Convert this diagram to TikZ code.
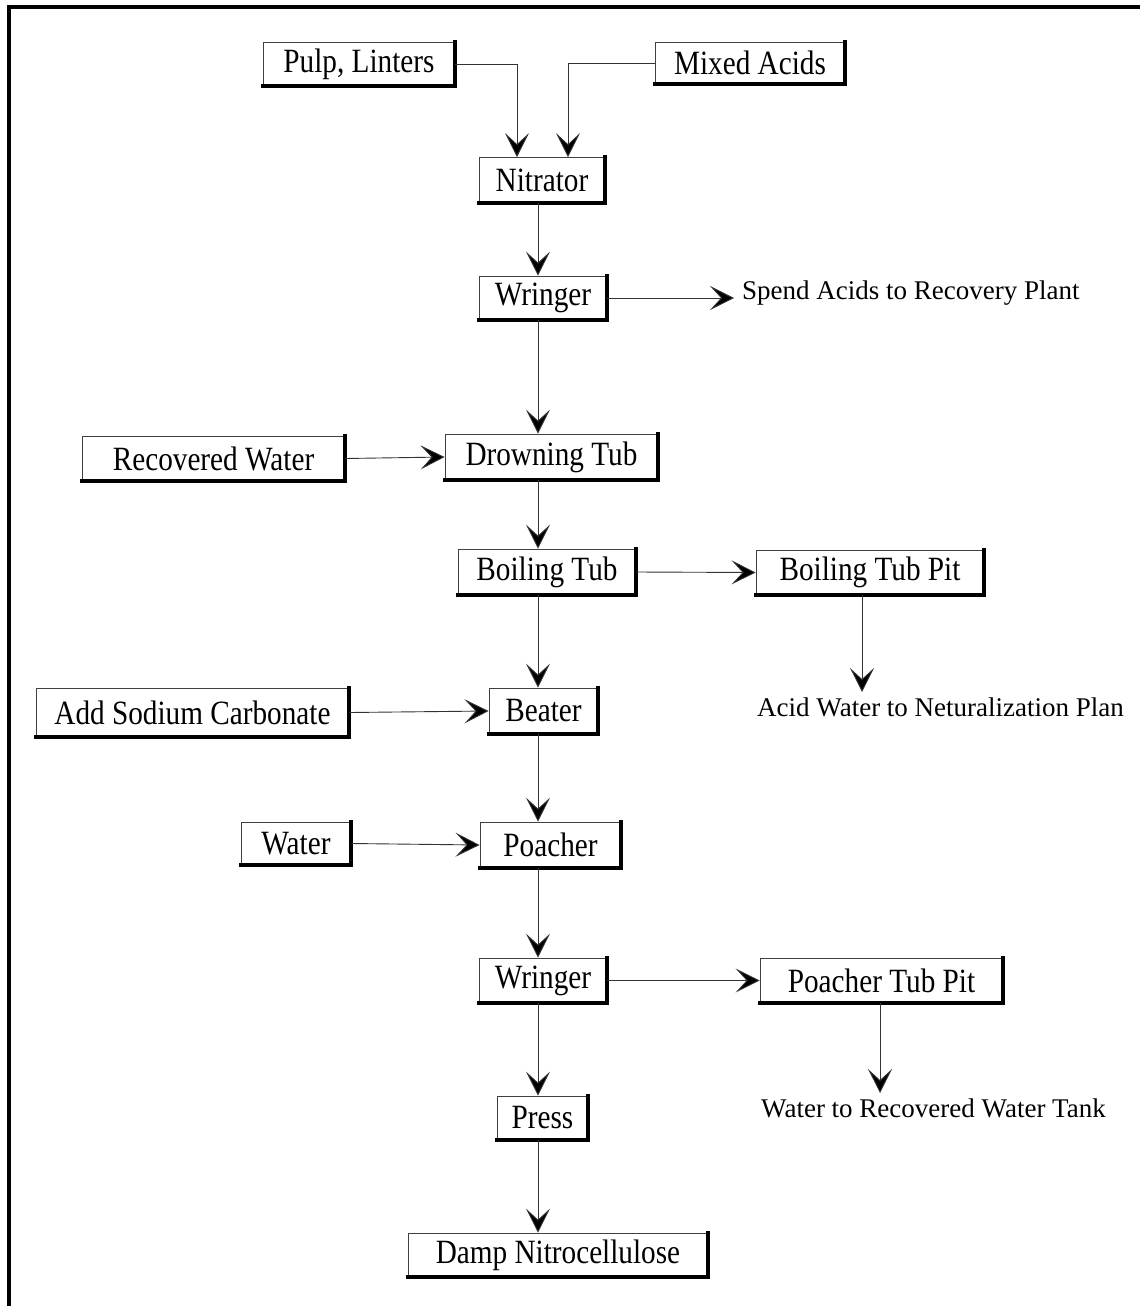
\documentclass[tikz,border=0pt]{standalone}
\usepackage{fontspec}
\setmainfont{Liberation Serif}
\newfontfamily\boxfont[FakeStretch=0.86]{Liberation Serif}
\usetikzlibrary{arrows.meta}
\tikzset{
 pbox/.style={draw=black!75, line width=0.8pt, inner sep=0pt, fill=white,
   font=\boxfont\fontsize{34}{36}\selectfont},
 lbl/.style={font=\fontsize{27}{30}\selectfont, inner sep=0pt, anchor=west},
 flow/.style={line width=0.9pt, draw=black!80,
   -{Stealth[length=24pt,width=24pt,inset=11pt,fill=black]}},
 shadowline/.style={line width=4pt, line cap=rect}
}
\begin{document}
\begin{tikzpicture}[x=1pt,y=-1pt]
\useasboundingbox (0,0) rectangle (1140,1306);
\draw[line width=4pt] (9,1306) -- (9,7) -- (1140,7);
\coordinate (axis) at (538,0);

\node[pbox, minimum width=192pt, minimum height=44pt] (pulp)  at (359,64)    {Pulp, Linters};
\node[pbox, minimum width=190pt, minimum height=42pt] (mixed) at (750,63)    {Mixed Acids};
\node[pbox, minimum width=126pt, minimum height=45pt] (nitr)  at (542,180)   {Nitrator};
\node[pbox, minimum width=128pt, minimum height=44pt] (wr1)   at (543,298)   {Wringer};
\node[pbox, minimum width=213pt, minimum height=46pt] (drown) at (551.5,457) {Drowning Tub};
\node[pbox, minimum width=263pt, minimum height=45pt] (recw)  at (213.5,458.5) {Recovered Water};
\node[pbox, minimum width=178pt, minimum height=46pt] (boil)  at (547,572)   {Boiling Tub};
\node[pbox, minimum width=228pt, minimum height=45pt] (btp)   at (870,572.5) {Boiling Tub Pit};
\node[pbox, minimum width=109pt, minimum height=46pt] (beat)  at (543.5,711) {Beater};
\node[pbox, minimum width=313pt, minimum height=49pt] (soda)  at (192.5,712.5) {Add Sodium Carbonate};
\node[pbox, minimum width=110pt, minimum height=43pt] (water) at (296,843.5) {Water};
\node[pbox, minimum width=141pt, minimum height=46pt] (poach) at (550.5,845) {Poacher};
\node[pbox, minimum width=128pt, minimum height=45pt] (wr2)   at (543,980.5) {Wringer};
\node[pbox, minimum width=243pt, minimum height=45pt] (ptp)   at (881.5,980.5) {Poacher Tub Pit};
\node[pbox, minimum width=91pt,  minimum height=44pt] (press) at (542.5,1118) {Press};
\node[pbox, minimum width=300pt, minimum height=44pt] (damp)  at (558,1255)  {Damp Nitrocellulose};

\foreach \n in {pulp,mixed,nitr,wr1,drown,recw,boil,btp,beat,soda,water,poach,wr2,ptp,press,damp}
  \draw[shadowline] (\n.north east) -- (\n.south east) -- (\n.south west);

\node[lbl] (spend) at (742,293)  {Spend Acids to Recovery Plant};
\node[lbl] (acid)  at (757,707)  {Acid Water to Neturalization Plan};
\node[lbl] (wtank) at (761,1108) {Water to Recovered Water Tank};
\coordinate (acidtop) at (862,692);
\coordinate (wtanktop) at (880,1093);

\draw[flow] (pulp.east) -| ([xshift=-25pt]nitr.north);
\draw[flow] (mixed.west) -| ([xshift=26pt]nitr.north);
\draw[flow] (nitr.south -| axis) -- (wr1.north -| axis);
\draw[flow] (wr1.east) -- ([xshift=-8pt]wr1.east -| spend.west);
\draw[flow] (wr1.south -| axis) -- (drown.north -| axis);
\draw[flow] (recw.east) -- (drown.west);
\draw[flow] (drown.south -| axis) -- (boil.north -| axis);
\draw[flow] (boil.east) -- (btp.west);
\draw[flow] (btp.south -| acidtop) -- (acidtop);
\draw[flow] (boil.south -| axis) -- (beat.north -| axis);
\draw[flow] (soda.east) -- (beat.west);
\draw[flow] (beat.south -| axis) -- (poach.north -| axis);
\draw[flow] (water.east) -- (poach.west);
\draw[flow] (poach.south -| axis) -- (wr2.north -| axis);
\draw[flow] (wr2.east) -- (ptp.west);
\draw[flow] (ptp.south -| wtanktop) -- (wtanktop);
\draw[flow] (wr2.south -| axis) -- (press.north -| axis);
\draw[flow] (press.south -| axis) -- (damp.north -| axis);
\end{tikzpicture}
\end{document}
